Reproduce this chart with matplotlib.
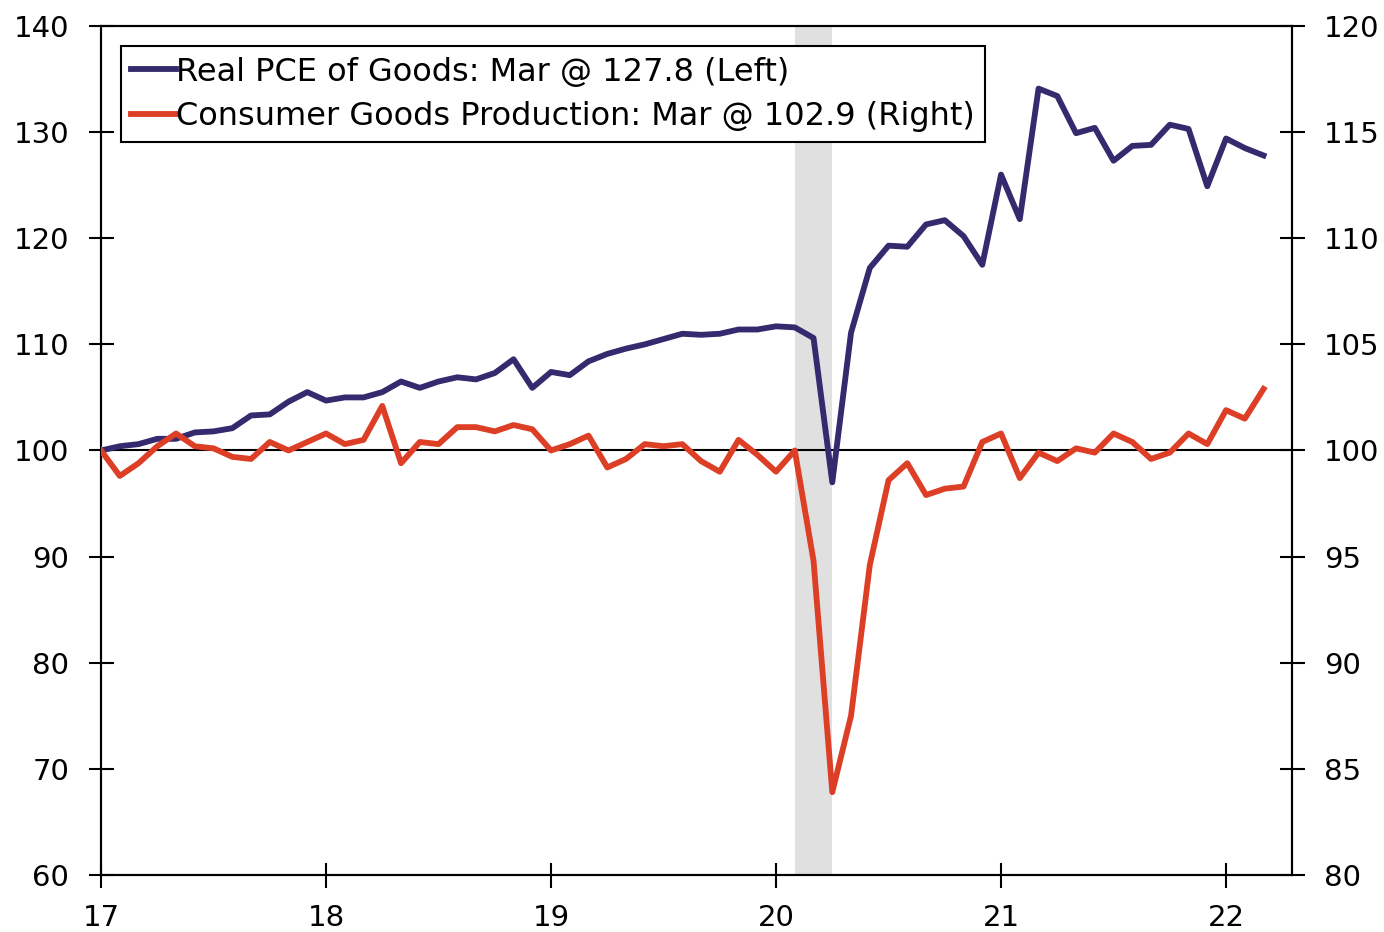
import numpy as np
import matplotlib
matplotlib.use("Agg")
import matplotlib.pyplot as plt

# monthly data, Jan 2017 .. Mar 2022
start_year = 17
pce_goods = [100.0, 100.4, 100.6, 101.1, 101.1, 101.7, 101.8, 102.1, 103.3, 103.4, 104.6, 105.5,
             104.7, 105.0, 105.0, 105.5, 106.5, 105.9, 106.5, 106.9, 106.7, 107.3, 108.6, 105.9,
             107.4, 107.1, 108.4, 109.1, 109.6, 110.0, 110.5, 111.0, 110.9, 111.0, 111.4, 111.4,
             111.7, 111.6, 110.6, 97.0, 111.1, 117.2, 119.3, 119.2, 121.3, 121.7, 120.2, 117.5,
             126.0, 121.8, 134.1, 133.4, 129.9, 130.4, 127.3, 128.7, 128.8, 130.7, 130.3, 124.9,
             129.4, 128.5, 127.8]
goods_prod = [100.0, 98.8, 99.4, 100.2, 100.8, 100.2, 100.1, 99.7, 99.6, 100.4, 100.0, 100.4,
              100.8, 100.3, 100.5, 102.1, 99.4, 100.4, 100.3, 101.1, 101.1, 100.9, 101.2, 101.0,
              100.0, 100.3, 100.7, 99.2, 99.6, 100.3, 100.2, 100.3, 99.5, 99.0, 100.5, 99.8,
              99.0, 100.0, 94.8, 83.9, 87.5, 94.6, 98.6, 99.4, 97.9, 98.2, 98.3, 100.4,
              100.8, 98.7, 99.9, 99.5, 100.1, 99.9, 100.8, 100.4, 99.6, 99.9, 100.8, 100.3,
              101.9, 101.5, 102.9]
recession = (37, 39)  # month index: Feb 2020 .. Apr 2020
x_ticks = [17, 18, 19, 20, 21, 22]
left_ticks = [60, 70, 80, 90, 100, 110, 120, 130, 140]
right_ticks = [80, 85, 90, 95, 100, 105, 110, 115, 120]

navy = "#342a6e"
red = "#dc3f26"

plt.rcParams['font.family'] = ['DejaVu Sans']
plt.rcParams['font.size'] = 20

x = start_year + np.arange(len(pce_goods)) / 12

fig = plt.figure(figsize=(13.84, 9.32), dpi=100)
ax = fig.add_axes([0.073, 0.0612, 0.8605, 0.9109])
ax2 = ax.twinx()

ax.axvspan(start_year + recession[0] / 12, start_year + recession[1] / 12,
           color="#e0e0e0", lw=0, zorder=0)
ax.axhline(100, color="black", lw=1.5, zorder=1)
l1, = ax.plot(x, pce_goods, color=navy, lw=4.2, zorder=3,
              label="Real PCE of Goods: Mar @ 127.8 (Left)")
l2, = ax2.plot(x, goods_prod, color=red, lw=4.2, zorder=3,
               label="Consumer Goods Production: Mar @ 102.9 (Right)")

ax.set_xlim(17, 22.293)
ax.set_ylim(60, 140)
ax2.set_ylim(80, 120)
ax.set_xticks(x_ticks)
ax.set_xticklabels([str(t) for t in x_ticks])
ax.set_yticks(left_ticks)
ax2.set_yticks(right_ticks)

for a in (ax, ax2):
    for s in a.spines.values():
        s.set_linewidth(1.5)
    a.tick_params(direction="inout", length=18, width=1.5, labelsize=21)
ax.tick_params(axis="y", pad=14)
ax2.tick_params(axis="y", pad=14)
ax.tick_params(axis="x", pad=12)

leg = ax2.legend(handles=[l1, l2], loc="upper left", bbox_to_anchor=(0.0168, 0.976),
                 borderaxespad=0, fontsize=23, handlelength=1.4, handletextpad=0.0,
                 labelspacing=0.42, borderpad=0.32, fancybox=False, framealpha=1,
                 edgecolor="black")
leg.get_frame().set_linewidth(1.5)

fig.savefig("out.png", dpi=100)
